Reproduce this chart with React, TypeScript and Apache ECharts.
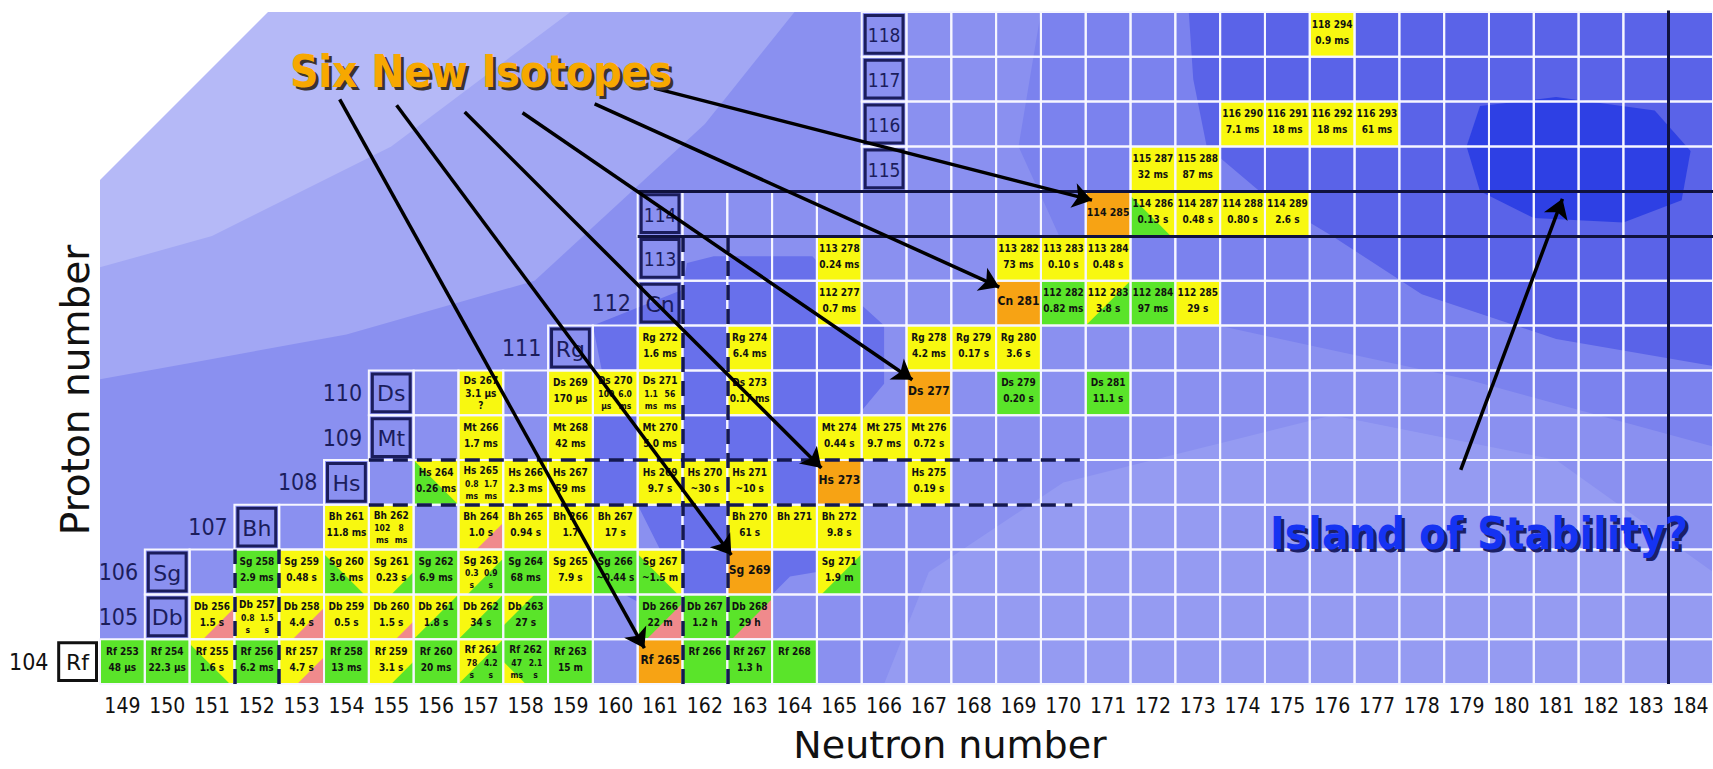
import React, { useEffect, useRef } from 'react';
import * as echarts from 'echarts';

type Pt = [number, number];
// [N, Z, name, half-life lines ('|' separates two columns), base colour, triangle colour, triangle corner, triangle size]
type Iso = [number, number, string, string, string, string?, string?, number?];

const neutronNumbers = [
  '149', '150', '151', '152', '153', '154', '155', '156', '157', '158', '159', '160',
  '161', '162', '163', '164', '165', '166', '167', '168', '169', '170', '171', '172',
  '173', '174', '175', '176', '177', '178', '179', '180', '181', '182', '183', '184',
];

// proton number, first neutron number of the gridded row
const protonRowStarts: Pt[] = [
  [104, 149], [105, 150], [106, 150], [107, 152], [108, 154], [109, 155], [110, 155],
  [111, 159], [112, 161], [113, 161], [114, 161], [115, 166], [116, 166], [117, 166], [118, 166],
];
const lastNeutron = 184;

const isotopes: Iso[] = [
  // Z = 104
  [149, 104, 'Rf 253', '48 µs', 'G'],
  [150, 104, 'Rf 254', '22.3 µs', 'G'],
  [151, 104, 'Rf 255', '1.6 s', 'Y', 'G', 'bl', 0.9],
  [152, 104, 'Rf 256', '6.2 ms', 'G'],
  [153, 104, 'Rf 257', '4.7 s', 'Y', 'P', 'br', 0.6],
  [154, 104, 'Rf 258', '13 ms', 'G'],
  [155, 104, 'Rf 259', '3.1 s', 'Y', 'G', 'br', 0.5],
  [156, 104, 'Rf 260', '20 ms', 'G'],
  [157, 104, 'Rf 261', '78|4.2\ns|s', 'Y', 'G', 'br', 1],
  [158, 104, 'Rf 262', '47|2.1\nms|s', 'G', 'Y', 'bl', 0.5],
  [159, 104, 'Rf 263', '15 m', 'G'],
  [161, 104, 'Rf 265', '', 'O'],
  [162, 104, 'Rf 266', '', 'G'],
  [163, 104, 'Rf 267', '1.3 h', 'G'],
  [164, 104, 'Rf 268', '', 'G'],
  // Z = 105
  [151, 105, 'Db 256', '1.5 s', 'Y', 'P', 'br', 0.7],
  [152, 105, 'Db 257', '0.8|1.5\ns|s', 'Y'],
  [153, 105, 'Db 258', '4.4 s', 'Y', 'P', 'br', 0.7],
  [154, 105, 'Db 259', '0.5 s', 'Y'],
  [155, 105, 'Db 260', '1.5 s', 'Y', 'P', 'br', 0.4],
  [156, 105, 'Db 261', '1.8 s', 'Y', 'G', 'br', 1],
  [157, 105, 'Db 262', '34 s', 'G', 'Y', 'tl', 1],
  [158, 105, 'Db 263', '27 s', 'G', 'Y', 'tl', 0.7],
  [161, 105, 'Db 266', '22 m', 'G', 'P', 'br', 0.8],
  [162, 105, 'Db 267', '1.2 h', 'G'],
  [163, 105, 'Db 268', '29 h', 'G', 'P', 'br', 0.9],
  // Z = 106
  [152, 106, 'Sg 258', '2.9 ms', 'G'],
  [153, 106, 'Sg 259', '0.48 s', 'Y'],
  [154, 106, 'Sg 260', '3.6 ms', 'Y', 'G', 'bl', 0.9],
  [155, 106, 'Sg 261', '0.23 s', 'Y', 'G', 'br', 0.5],
  [156, 106, 'Sg 262', '6.9 ms', 'G'],
  [157, 106, 'Sg 263', '0.3|0.9\ns|s', 'Y', 'G', 'br', 0.8],
  [158, 106, 'Sg 264', '68 ms', 'G'],
  [159, 106, 'Sg 265', '7.9 s', 'Y'],
  [160, 106, 'Sg 266', '~0.44 s', 'G'],
  [161, 106, 'Sg 267', '~1.5 m', 'Y', 'G', 'bl', 0.9],
  [163, 106, 'Sg 269', '', 'O'],
  [165, 106, 'Sg 271', '1.9 m', 'Y', 'G', 'br', 0.9],
  // Z = 107
  [154, 107, 'Bh 261', '11.8 ms', 'Y'],
  [155, 107, 'Bh 262', '102|8\nms|ms', 'Y'],
  [157, 107, 'Bh 264', '1.0 s', 'Y', 'P', 'br', 0.6],
  [158, 107, 'Bh 265', '0.94 s', 'Y'],
  [159, 107, 'Bh 266', '1.7', 'Y'],
  [160, 107, 'Bh 267', '17 s', 'Y'],
  [163, 107, 'Bh 270', '61 s', 'Y'],
  [164, 107, 'Bh 271', '', 'Y'],
  [165, 107, 'Bh 272', '9.8 s', 'Y'],
  // Z = 108
  [156, 108, 'Hs 264', '0.26 ms', 'Y', 'G', 'bl', 1],
  [157, 108, 'Hs 265', '0.8|1.7\nms|ms', 'Y'],
  [158, 108, 'Hs 266', '2.3 ms', 'Y'],
  [159, 108, 'Hs 267', '59 ms', 'Y'],
  [161, 108, 'Hs 269', '9.7 s', 'Y'],
  [162, 108, 'Hs 270', '~30 s', 'Y'],
  [163, 108, 'Hs 271', '~10 s', 'Y'],
  [165, 108, 'Hs 273', '', 'O'],
  [167, 108, 'Hs 275', '0.19 s', 'Y'],
  // Z = 109
  [157, 109, 'Mt 266', '1.7 ms', 'Y'],
  [159, 109, 'Mt 268', '42 ms', 'Y'],
  [161, 109, 'Mt 270', '5.0 ms', 'Y'],
  [165, 109, 'Mt 274', '0.44 s', 'Y'],
  [166, 109, 'Mt 275', '9.7 ms', 'Y'],
  [167, 109, 'Mt 276', '0.72 s', 'Y'],
  // Z = 110
  [157, 110, 'Ds 267', '3.1 µs\n?', 'Y'],
  [159, 110, 'Ds 269', '170 µs', 'Y'],
  [160, 110, 'Ds 270', '100|6.0\nµs|ms', 'Y'],
  [161, 110, 'Ds 271', '1.1|56\nms|ms', 'Y'],
  [163, 110, 'Ds 273', '0.17 ms', 'Y'],
  [167, 110, 'Ds 277', '', 'O'],
  [169, 110, 'Ds 279', '0.20 s', 'G'],
  [171, 110, 'Ds 281', '11.1 s', 'G'],
  // Z = 111
  [161, 111, 'Rg 272', '1.6 ms', 'Y'],
  [163, 111, 'Rg 274', '6.4 ms', 'Y'],
  [167, 111, 'Rg 278', '4.2 ms', 'Y'],
  [168, 111, 'Rg 279', '0.17 s', 'Y'],
  [169, 111, 'Rg 280', '3.6 s', 'Y'],
  // Z = 112
  [165, 112, '112 277', '0.7 ms', 'Y'],
  [169, 112, 'Cn 281', '', 'O'],
  [170, 112, '112 282', '0.82 ms', 'G'],
  [171, 112, '112 283', '3.8 s', 'Y', 'G', 'br', 1],
  [172, 112, '112 284', '97 ms', 'G'],
  [173, 112, '112 285', '29 s', 'Y'],
  // Z = 113
  [165, 113, '113 278', '0.24 ms', 'Y'],
  [169, 113, '113 282', '73 ms', 'Y'],
  [170, 113, '113 283', '0.10 s', 'Y'],
  [171, 113, '113 284', '0.48 s', 'Y'],
  // Z = 114
  [171, 114, '114 285', '', 'O'],
  [172, 114, '114 286', '0.13 s', 'Y', 'G', 'bl', 0.9],
  [173, 114, '114 287', '0.48 s', 'Y'],
  [174, 114, '114 288', '0.80 s', 'Y'],
  [175, 114, '114 289', '2.6 s', 'Y'],
  // Z = 115
  [172, 115, '115 287', '32 ms', 'Y'],
  [173, 115, '115 288', '87 ms', 'Y'],
  // Z = 116
  [174, 116, '116 290', '7.1 ms', 'Y'],
  [175, 116, '116 291', '18 ms', 'Y'],
  [176, 116, '116 292', '18 ms', 'Y'],
  [177, 116, '116 293', '61 ms', 'Y'],
  // Z = 118
  [176, 118, '118 294', '0.9 ms', 'Y'],
];

const elementBoxes: [number, number, string][] = [
  [148, 104, 'Rf'], [150, 105, 'Db'], [150, 106, 'Sg'], [152, 107, 'Bh'], [154, 108, 'Hs'],
  [155, 109, 'Mt'], [155, 110, 'Ds'], [159, 111, 'Rg'], [161, 112, 'Cn'], [161, 113, '113'],
  [161, 114, '114'], [166, 115, '115'], [166, 116, '116'], [166, 117, '117'], [166, 118, '118'],
];

const rowLabels: [number, number, string][] = [
  [147, 104, '104'], [149, 105, '105'], [149, 106, '106'], [151, 107, '107'], [153, 108, '108'],
  [154, 109, '109'], [154, 110, '110'], [158, 111, '111'], [160, 112, '112'],
];

const dashedLines: Pt[][] = [
  [[151.5, 103.5], [151.5, 106.5]],
  [[152.5, 103.5], [152.5, 106.5]],
  [[161.5, 103.5], [161.5, 113.5]],
  [[162.5, 103.5], [162.5, 113.5]],
  [[154.5, 108.5], [170.4, 108.5]],
  [[154.5, 107.5], [170.2, 107.5]],
];

const magicLines: Pt[][] = [
  [[160.5, 114.5], [184.5, 114.5]],
  [[160.5, 113.5], [184.5, 113.5]],
  [[183.5, 103.5], [183.5, 118.65]],
];

const newIsotopeArrows: Pt[][] = [
  [[153.85, 116.55], [160.65, 104.3]],
  [[155.12, 116.42], [162.59, 106.38]],
  [[156.64, 116.27], [164.6, 108.32]],
  [[157.93, 116.25], [166.63, 110.29]],
  [[159.54, 116.45], [168.57, 112.36]],
  [[160.87, 116.8], [170.64, 114.3]],
];
const islandArrows: Pt[][] = [[[178.87, 108.28], [181.14, 114.33]]];

// background stability contours (N, Z)
const contourBase: Pt[] = [[148.5, 103.5], [184.5, 103.5], [184.5, 118.5], [148.5, 118.5]];
const contourLight1: Pt[] = [[148.5, 118.5], [164, 118.5], [162, 116], [158.2, 112.5], [154, 111.3], [150.7, 110.7], [148.5, 110.3]];
const contourLight2: Pt[] = [[148.5, 118.5], [159, 118.5], [155, 115.5], [151, 113.5], [148.5, 112.8]];
const contourCorner: Pt[] = [[148.5, 118.5], [152.25, 118.5], [148.5, 114.75]];
const contourLowerRight: Pt[] = [[166, 103.5], [184.5, 103.5], [184.5, 106], [181, 108.5], [176, 109.5], [170, 108], [167, 106]];
const contourRidge: Pt[] = [
  [160.2, 105.5], [161, 106.5], [160.5, 107.5], [159.5, 107.5], [159.5, 109.5], [159.7, 110.5], [159.5, 111.5],
  [161.5, 112.3], [161.6, 112.9], [162.2, 113.05], [164.4, 113.05], [164.9, 112.5], [166, 111.5], [166, 110.2],
  [165, 109], [164.5, 108], [164.5, 106], [163.9, 105.9], [163.5, 105.5], [161.5, 104.8],
];
const contourUpperMid: Pt[] = [[169.5, 118.5], [184.5, 118.5], [184.5, 108.8], [179, 110.3], [173, 111.6], [170, 113.3], [169, 115.5]];
const contourUpperDark: Pt[] = [[172.8, 118.5], [184.5, 118.5], [184.5, 110.6], [181, 111.2], [178, 112.2], [176, 113.5], [174.5, 114.4], [173.2, 115.5], [172.9, 117]];
const contourIsland: Pt[] = [[179.3, 116.4], [181, 116.6], [183.2, 116.3], [184, 115.4], [183.8, 114.3], [182.5, 113.8], [180.5, 113.9], [179.3, 114.5], [179, 115.5]];

const CELL_COLORS: Record<string, string> = { Y: '#f8f810', G: '#5ae42a', O: '#f7a314', P: '#f08a8c' };
const NAVY = '#1b1d5c';
const FONT_NARROW = "'Liberation Sans Narrow', 'DejaVu Sans Condensed', 'Roboto Condensed', sans-serif";
const FONT_ROUND = "'DejaVu Sans', sans-serif";
const FONT_HEAVY = "'DejaVu Sans Condensed', 'DejaVu Sans', sans-serif";

function cellBox(api: any, n: number, z: number) {
  const a = api.coord([n - 0.5, z + 0.5]);
  const b = api.coord([n + 0.5, z - 0.5]);
  return { x: a[0], y: a[1], w: b[0] - a[0], h: b[1] - a[1] };
}

function txt(x: number, y: number, text: string, size: number, opts: any = {}) {
  return {
    type: 'text',
    x,
    y,
    style: {
      text,
      fill: opts.fill || '#111',
      fontSize: size,
      fontWeight: opts.weight || 'bold',
      fontFamily: opts.family || FONT_NARROW,
      textAlign: 'center',
      textVerticalAlign: 'middle',
    },
  };
}

export default function App() {
  const ref = useRef<HTMLDivElement>(null);

  useEffect(() => {
    if (!ref.current) return;
    const chart = echarts.init(ref.current, null, { renderer: 'svg' });

    const gridCells: Pt[] = [];
    protonRowStarts.forEach(([z, n0]) => {
      for (let n = n0; n <= lastNeutron; n++) gridCells.push([n, z]);
    });

    const contours = [
      { pts: contourBase, color: '#8a90f0' },
      { pts: contourLight1, color: '#a2a7f4' },
      { pts: contourLight2, color: '#b5b9f7' },
      { pts: contourCorner, color: '#ffffff' },
      { pts: contourLowerRight, color: '#959bf2' },
      { pts: contourRidge, color: '#6870eb' },
      { pts: contourUpperMid, color: '#7b82ee' },
      { pts: contourUpperDark, color: '#5a63e8' },
      { pts: contourIsland, color: '#2e40e4' },
    ];

    const option: any = {
      animation: false,
      grid: { left: 100, top: 12, width: 1614.6, height: 672, containLabel: false },
      xAxis: [
        { type: 'value', min: 148.5, max: 184.5, show: false },
        {
          type: 'category',
          data: neutronNumbers,
          position: 'bottom',
          boundaryGap: true,
          axisLine: { show: false },
          axisTick: { show: false },
          splitLine: { show: false },
          axisLabel: { interval: 0, fontSize: 21, color: '#111', margin: 11, fontFamily: FONT_NARROW },
        },
      ],
      yAxis: [{ type: 'value', min: 103.5, max: 118.5, show: false }],
      series: [
        {
          type: 'custom',
          name: 'contours',
          z: 1,
          silent: true,
          clip: false,
          data: contours.map((c) => c.pts[0]),
          renderItem: (params: any, api: any) => {
            const c = contours[params.dataIndex];
            return {
              type: 'polygon',
              shape: { points: c.pts.map((p) => api.coord(p)) },
              style: { fill: c.color },
            };
          },
        },
        {
          type: 'custom',
          name: 'isotopes',
          z: 2,
          silent: true,
          data: isotopes.map((d) => [d[0], d[1]]),
          renderItem: (params: any, api: any) => {
            const [n, z, name, hl, base, tri, corner, f] = isotopes[params.dataIndex];
            const r = cellBox(api, n, z);
            const children: any[] = [
              { type: 'rect', shape: { x: r.x, y: r.y, width: r.w, height: r.h }, style: { fill: CELL_COLORS[base] } },
            ];
            if (tri) {
              const s = f || 1;
              let pts: number[][] = [];
              if (corner === 'br') pts = [[r.x + r.w, r.y + r.h], [r.x + r.w, r.y + r.h - s * r.h], [r.x + r.w - s * r.w, r.y + r.h]];
              if (corner === 'bl') pts = [[r.x, r.y + r.h], [r.x, r.y + r.h - s * r.h], [r.x + s * r.w, r.y + r.h]];
              if (corner === 'tl') pts = [[r.x, r.y], [r.x + s * r.w, r.y], [r.x, r.y + s * r.h]];
              children.push({ type: 'polygon', shape: { points: pts }, style: { fill: CELL_COLORS[tri] } });
            }
            if (base === 'O') {
              const long = name.length > 6;
              children.push(txt(r.x + r.w / 2, r.y + r.h / 2 - 2, name, long ? 10.5 : 12, { family: FONT_HEAVY }));
            } else {
              const lines = [name].concat(hl ? hl.split('\n') : []);
              const ys = lines.length === 3 ? [r.y + 10.5, r.y + 23.5, r.y + 35.5] : [r.y + 12, r.y + 28];
              lines.forEach((ln, i) => {
                if (ln.indexOf('|') >= 0) {
                  const [a, b] = ln.split('|');
                  children.push(txt(r.x + r.w * 0.3, ys[i], a, 8.5));
                  children.push(txt(r.x + r.w * 0.72, ys[i], b, 8.5));
                } else {
                  children.push(txt(r.x + r.w / 2, ys[i], ln, 10));
                }
              });
            }
            return { type: 'group', children };
          },
        },
        {
          type: 'custom',
          name: 'grid',
          z: 3,
          silent: true,
          data: gridCells,
          renderItem: (params: any, api: any) => {
            const [n, z] = gridCells[params.dataIndex];
            const r = cellBox(api, n, z);
            return {
              type: 'rect',
              shape: { x: r.x, y: r.y, width: r.w, height: r.h },
              style: { fill: 'none', stroke: '#f6f6ff', lineWidth: 2 },
            };
          },
        },
        {
          type: 'lines',
          name: 'shell closures',
          coordinateSystem: 'cartesian2d',
          z: 4,
          silent: true,
          symbol: ['none', 'none'],
          lineStyle: { color: '#141850', width: 3.5, type: [15, 9], opacity: 1 },
          data: dashedLines.map((c) => ({ coords: c })),
        },
        {
          type: 'lines',
          name: 'magic numbers',
          coordinateSystem: 'cartesian2d',
          z: 4,
          silent: true,
          symbol: ['none', 'none'],
          lineStyle: { color: '#10123e', width: 3, opacity: 1 },
          data: magicLines.map((c) => ({ coords: c })),
        },
        {
          type: 'custom',
          name: 'elements',
          z: 5,
          silent: true,
          clip: false,
          data: elementBoxes.map((d) => [d[0], d[1]]),
          renderItem: (params: any, api: any) => {
            const [n, z, sym] = elementBoxes[params.dataIndex];
            const r = cellBox(api, n, z);
            const outside = z === 104;
            const isNum = /^\d/.test(sym);
            return {
              type: 'group',
              children: [
                {
                  type: 'rect',
                  shape: { x: r.x + 3.5, y: r.y + 3.5, width: r.w - 7, height: r.h - 7 },
                  style: { fill: outside ? '#ffffff' : 'none', stroke: outside ? '#111' : NAVY, lineWidth: 3 },
                },
                txt(r.x + r.w / 2, r.y + r.h / 2 + 1, sym, isNum ? 19 : 22, {
                  weight: 'normal',
                  family: isNum ? FONT_NARROW : FONT_ROUND,
                  fill: outside ? '#111' : NAVY,
                }),
              ],
            };
          },
        },
        {
          type: 'custom',
          name: 'row labels',
          z: 5,
          silent: true,
          clip: false,
          data: rowLabels.map((d) => [d[0], d[1]]),
          renderItem: (params: any, api: any) => {
            const [n, z, label] = rowLabels[params.dataIndex];
            const r = cellBox(api, n, z);
            return txt(r.x + r.w / 2 - 4, r.y + r.h / 2, label, 23, {
              weight: 'normal',
              fill: z === 104 ? '#111' : NAVY,
            });
          },
        },
        {
          type: 'lines',
          name: 'new isotopes',
          coordinateSystem: 'cartesian2d',
          z: 6,
          silent: true,
          symbol: ['none', 'arrow'],
          symbolSize: 19,
          itemStyle: { color: '#000' },
          lineStyle: { color: '#000', width: 3.5, opacity: 1 },
          data: newIsotopeArrows.concat(islandArrows).map((c) => ({ coords: c })),
        },
      ],
      graphic: [
        {
          type: 'text', x: 484, y: 74, z: 100,
          style: { text: 'Six New Isotopes', fill: '#3b3330', fontSize: 44, fontWeight: 'bold', fontFamily: FONT_HEAVY, textAlign: 'center', textVerticalAlign: 'middle' },
        },
        {
          type: 'text', x: 481, y: 71, z: 101,
          style: { text: 'Six New Isotopes', fill: '#f7a800', fontSize: 44, fontWeight: 'bold', fontFamily: FONT_HEAVY, textAlign: 'center', textVerticalAlign: 'middle' },
        },
        {
          type: 'text', x: 1482, y: 536, z: 100,
          style: { text: 'Island of Stability?', fill: '#1c1f66', fontSize: 44, fontWeight: 'bold', fontFamily: FONT_HEAVY, textAlign: 'center', textVerticalAlign: 'middle' },
        },
        {
          type: 'text', x: 1479, y: 533, z: 101,
          style: { text: 'Island of Stability?', fill: '#1533f2', fontSize: 44, fontWeight: 'bold', fontFamily: FONT_HEAVY, textAlign: 'center', textVerticalAlign: 'middle' },
        },
        {
          type: 'text', x: 75, y: 390, rotation: Math.PI / 2, z: 100,
          style: { text: 'Proton number', fill: '#111', fontSize: 39, fontFamily: FONT_ROUND, textAlign: 'center', textVerticalAlign: 'middle' },
        },
        {
          type: 'text', x: 950, y: 745, z: 100,
          style: { text: 'Neutron number', fill: '#111', fontSize: 38, fontFamily: FONT_ROUND, textAlign: 'center', textVerticalAlign: 'middle' },
        },
      ],
    };

    chart.setOption(option);
    return () => chart.dispose();
  }, []);

  return <div ref={ref} style={{ position: 'absolute', left: 0, top: 0, width: 1713, height: 769 }} />;
}
